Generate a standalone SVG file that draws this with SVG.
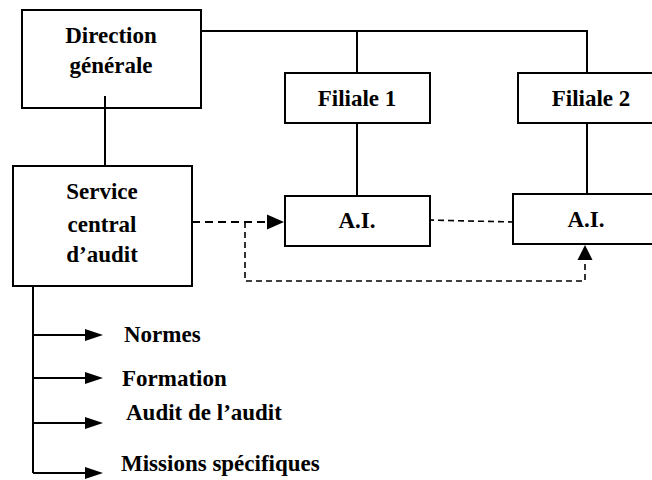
<svg xmlns="http://www.w3.org/2000/svg" width="652" height="480" viewBox="0 0 652 480">
  <style>
    .box { fill: #fff; stroke: #000; stroke-width: 2; }
    .ln { fill: none; stroke: #000; stroke-width: 2; }
    .dash { fill: none; stroke: #000; stroke-width: 2; stroke-dasharray: 8 5; }
    .dash2 { fill: none; stroke: #000; stroke-width: 1.6; stroke-dasharray: 6 4; }
    .head { fill: #000; stroke: none; }
    text { font-family: "Liberation Serif", serif; font-weight: 700; font-size: 23px; fill: #000; }
    .c { text-anchor: middle; }
  </style>

  <g id="connectors">
    <!-- hierarchy lines -->
    <path class="ln" d="M201,31 H587 V73"/>
    <path class="ln" d="M357,31 V73"/>
    <path class="ln" d="M105,96 V166"/>
    <path class="ln" d="M357,123 V196"/>
    <path class="ln" d="M587,123 V194"/>
    <!-- audit links -->
    <path class="dash" d="M192,222 H268"/>
    <polygon class="head" points="267,214.5 284,222 267,229.5"/>
    <path class="dash2" d="M245,222 V281 H585 V259"/>
    <polygon class="head" points="577.5,260 585,245 592.5,260"/>
    <path class="dash2" d="M428,220 L513,222"/>
    <!-- missions of the central service -->
    <path class="ln" d="M33,286 V473"/>
    <path class="ln" d="M33,335 H86"/>
    <polygon class="head" points="85,329 103,335 85,341"/>
    <path class="ln" d="M33,378 H86"/>
    <polygon class="head" points="85,372 103,378 85,384"/>
    <path class="ln" d="M33,423 H86"/>
    <polygon class="head" points="85,417 103,423 85,429"/>
    <path class="ln" d="M33,473 H86"/>
    <polygon class="head" points="85,467 103,473 85,479"/>
  </g>

  <g id="direction">
    <rect class="box" x="22" y="10" width="179" height="98"/>
    <text class="c" x="111" y="43">Direction</text>
    <text class="c" x="111" y="73">générale</text>
  </g>
  <path class="ln" d="M105,96 V108"/>

  <g id="filiale1">
    <rect class="box" x="285" y="73" width="145" height="50"/>
    <text class="c" x="357" y="106">Filiale 1</text>
  </g>

  <g id="filiale2">
    <rect class="box" x="518" y="73" width="140" height="50"/>
    <text class="c" x="591" y="106">Filiale 2</text>
  </g>

  <g id="service">
    <rect class="box" x="13" y="166" width="179" height="120"/>
    <text class="c" x="102" y="199">Service</text>
    <text class="c" x="102" y="232">central</text>
    <text class="c" x="102" y="262">d’audit</text>
  </g>

  <g id="ai1">
    <rect class="box" x="285" y="196" width="145" height="50"/>
    <text class="c" x="357" y="228">A.I.</text>
  </g>

  <g id="ai2">
    <rect class="box" x="513" y="194" width="145" height="50"/>
    <text class="c" x="586" y="227">A.I.</text>
  </g>

  <g id="missions">
    <text x="124" y="342">Normes</text>
    <text x="122" y="386">Formation</text>
    <text x="126" y="420">Audit de l’audit</text>
    <text x="121" y="471">Missions spécifiques</text>
  </g>
</svg>
